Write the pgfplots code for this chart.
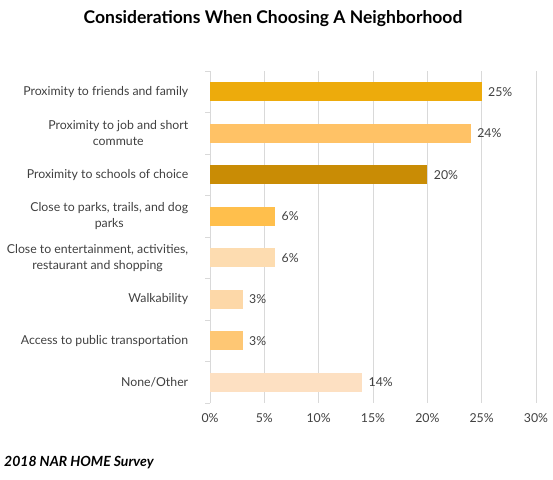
\documentclass[border=0pt]{standalone}
\usepackage{pgfplots}
\pgfplotsset{compat=1.18}
\usepackage{fontspec}
\setmainfont{Lato}
\definecolor{cA}{HTML}{EDAB0C}
\definecolor{cB}{HTML}{FFC266}
\definecolor{cC}{HTML}{C98C05}
\definecolor{cD}{HTML}{FFBF4C}
\definecolor{cE}{HTML}{FDDCB0}
\definecolor{cF}{HTML}{FDD8A8}
\definecolor{cG}{HTML}{FEC774}
\definecolor{cH}{HTML}{FDE0C2}
\definecolor{gridc}{HTML}{D9D9D9}
\definecolor{txt}{HTML}{404040}
\begin{document}
\begin{tikzpicture}[x=1pt,y=1pt]
\path[use as bounding box] (0,0) rectangle (553,479);
\node[font=\bfseries\fontsize{17.5}{20}\selectfont, text=black] at (273,460) {Considerations When Choosing A Neighborhood};
\node[font=\bfseries\itshape\fontsize{14}{16}\selectfont, anchor=west, inner sep=0pt] at (4,16) {2018 NAR HOME Survey};
\begin{axis}[
  at={(210pt,76pt)}, anchor=south west,
  scale only axis, width=326pt, height=332pt,
  xbar, bar shift=0pt, bar width=19pt,
  xmin=0, xmax=30, ymin=-0.5, ymax=7.5, y dir=reverse,
  axis x line*=bottom, axis y line*=left,
  x axis line style={draw=none},
  y axis line style={draw=gridc},
  xtick={0,5,...,30},
  xticklabel={\pgfmathprintnumber{\tick}\%},
  /pgf/number format/assume math mode=true,
  xmajorgrids, major grid style={gridc, line width=0.8pt},
  major x tick style={draw=none},
  ytick={0,...,7},
  yticklabels={Proximity to friends and family, Proximity to job and short\\commute, Proximity to schools of choice, {Close to parks, trails, and dog\\parks}, {Close to entertainment, activities,\\restaurant and shopping}, Walkability, Access to public transportation, None/Other},
  major y tick style={draw=none},
  minor ytick={-0.5,0.5,...,7.5},
  minor y tick style={draw=gridc, line width=0.8pt},
  minor tick length=5pt,
  tick align=outside,
  yticklabel style={align=center, font=\fontsize{12.3}{16}\selectfont, text=txt, xshift=-14pt},
  xticklabel style={font=\fontsize{12.3}{14}\selectfont, text=txt, yshift=-3pt},
  nodes near coords={\pgfmathprintnumber{\pgfplotspointmeta}\%},
  point meta=x,
  every node near coord/.append style={font=\fontsize{12.3}{14}\selectfont, text=txt, anchor=west, xshift=3pt},
  clip=false,
]
\addplot[fill=cA, draw=none] coordinates {(25,0)};
\addplot[fill=cB, draw=none] coordinates {(24,1)};
\addplot[fill=cC, draw=none] coordinates {(20,2)};
\addplot[fill=cD, draw=none] coordinates {(6,3)};
\addplot[fill=cE, draw=none] coordinates {(6,4)};
\addplot[fill=cF, draw=none] coordinates {(3,5)};
\addplot[fill=cG, draw=none] coordinates {(3,6)};
\addplot[fill=cH, draw=none] coordinates {(14,7)};
\end{axis}
\end{tikzpicture}
\end{document}
